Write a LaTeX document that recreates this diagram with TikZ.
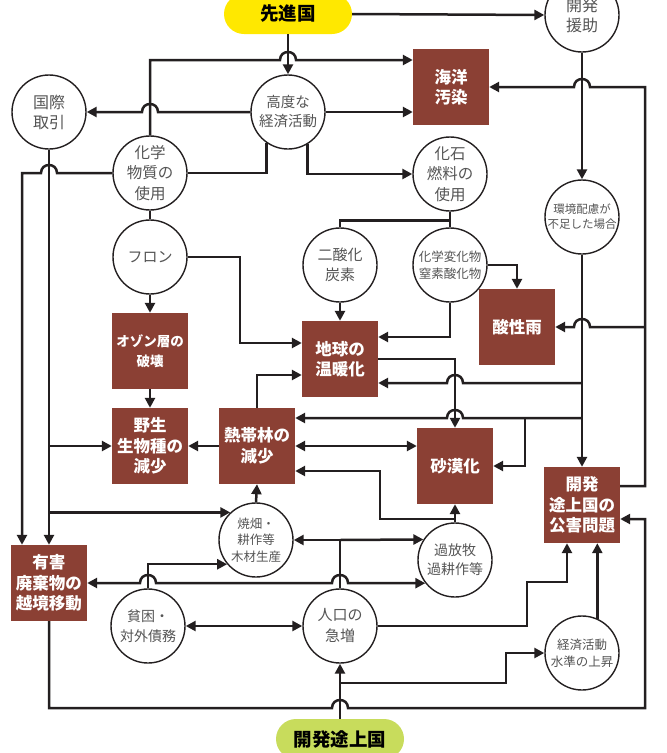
\documentclass[tikz,border=0pt]{standalone}
\usepackage{fontspec}
\setmainfont{Noto Sans CJK JP}
\usepackage{tikz}
\usetikzlibrary{arrows.meta,positioning,calc}
\definecolor{boxbrown}{RGB}{139,64,52}
\definecolor{pillyellow}{RGB}{255,232,0}
\definecolor{pillgreen}{RGB}{200,220,92}
\definecolor{inkdark}{RGB}{35,31,32}
\definecolor{inkgray}{RGB}{85,85,85}
\newcommand{\hopr}[2]{-- (#1-8,#2) .. controls +(0pt,10.7pt) and +(0pt,10.7pt) .. (#1+8,#2)}
\newcommand{\hopl}[2]{-- (#1+8,#2) .. controls +(0pt,10.7pt) and +(0pt,10.7pt) .. (#1-8,#2)}
\newcommand{\fs}[2]{\fontsize{#1}{#2}\selectfont}

\begin{document}
\begin{tikzpicture}[
  x=1pt, y=-1pt,
  bubble/.style={circle, draw=inkdark, line width=1.4pt, fill=white, minimum size=74pt,
                 inner sep=0pt, align=center, text=inkgray},
  issue/.style={rectangle, fill=boxbrown, minimum width=76pt, minimum height=76pt,
                inner sep=0pt, align=center, text=white, font=\bfseries\fs{16.5}{20.5}},
  pill/.style={rounded corners=20pt, minimum width=128pt, minimum height=40pt,
               inner sep=0pt, font=\bfseries\fs{18.5}{20}},
  arr/.style={-{Triangle[length=10pt,width=10pt]}, line width=2.5pt, draw=inkdark},
  twoway/.style={{Triangle[length=10pt,width=10pt]}-{Triangle[length=10pt,width=10pt]},
                 line width=2.5pt, draw=inkdark},
  link/.style={line width=2.5pt, draw=inkdark},
]
\useasboundingbox (0,0) rectangle (667,753);

\node[pill, fill=pillyellow] (dev) at (288,14) {先進国};
\node[pill, fill=pillgreen] (devg) at (340,739) {開発途上国};
\node[bubble, font=\fs{16}{20}] (aid) at (582,15) {開発\\援助};
\node[bubble, font=\fs{16}{20}] (trade) at (49,112) {国際\\取引};
\node[bubble, font=\fs{14.5}{19}] (econ) at (288,112) {高度な\\経済活動};
\node[bubble, font=\fs{15.5}{20.5}] (chem) at (150,173) {化学\\物質の\\使用};
\node[issue] (ocean) at (451,87) {海洋\\汚染};
\node[bubble, font=\fs{15.5}{20.5}] (fossil) at (450,174) {化石\\燃料の\\使用};
\node[bubble, font=\fs{11.5}{15}] (care) at (582,217) {環境配慮が\\不足した場合};
\node[bubble, font=\fs{15}{20}] (cfc) at (150,257) {フロン};
\node[bubble, font=\fs{15}{20}] (co2) at (340,265) {二酸化\\炭素};
\node[bubble, font=\fs{12.5}{17}] (nox) at (450,265) {化学変化物\\窒素酸化物};
\node[issue, font=\bfseries\fs{13.5}{20.5}] (ozone) at (150,351) {オゾン層の\\破壊};
\node[issue] (warm) at (340,359) {地球の\\温暖化};
\node[issue] (acid) at (517,327) {酸性雨};
\node[issue] (wild) at (150,446) {野生\\生物種の\\減少};
\node[issue] (forest) at (257,446) {熱帯林の\\減少};
\node[issue] (desert) at (455,466) {砂漠化};
\node[issue] (poll) at (582,505) {開発\\途上国の\\公害問題};
\node[issue] (waste) at (49,583) {有害\\廃棄物の\\越境移動};
\node[bubble, font=\fs{12.5}{16.5}] (burn) at (256,540) {焼畑・\\耕作等\\木材生産};
\node[bubble, font=\fs{14}{19}] (graze) at (455,560) {過放牧\\過耕作等};
\node[bubble, font=\fs{14}{20}] (pov) at (148,626) {貧困・\\対外債務};
\node[bubble, font=\fs{15}{21}] (pop) at (340,626) {人口の\\急増};
\node[bubble, font=\fs{12.5}{17}] (rise) at (582,653) {経済活動\\水準の上昇};

\coordinate (jwarm) at (582,383);
\coordinate (jforest) at (582,418);
\coordinate (jdesert) at (525,418);
\coordinate (jacid) at (645,327);
\coordinate (jgraze) at (455,519);
\coordinate (jpop) at (340,540);
\coordinate (jdevg) at (340,683);

\draw[arr] (dev.south) -- (econ.north);
\draw[arr] (dev.east) -- (aid.west);
\draw[arr] (aid.south) -- (care.north);
\draw[arr] (chem.north) -- (150,60) \hopr{288}{60} -- ([yshift=27pt]ocean.west);
\draw[arr] (econ.west) \hopl{150}{112} -- (trade.east);
\draw[arr] (econ.east) -- (ocean.west |- econ.east);
\draw[link] (econ.235) |- (chem.east);
\draw[arr] (econ.301) |- (fossil.west);
\draw[arr] (chem.west) \hopl{49}{173} -| ([xshift=-27pt]waste.north);
\draw[arr] (trade.south) -- (waste.north);
\draw[arr] (trade.south |- wild.west) -- (wild.west);
\draw[arr] (trade.south |- burn.133) -- (burn.133);
\draw[link] (chem.south) -- (cfc.north);
\draw[link] (fossil.south) -- (nox.north);
\draw[link] (fossil.south) -- ++(0,9) -| (co2.north);
\draw[arr] (cfc.south) -- (ozone.north);
\draw[arr] (cfc.east) -- (240,257) |- ([yshift=16pt]warm.west);
\draw[arr] (co2.south) -- (warm.north);
\draw[arr] (nox.south) |- ([yshift=22pt]warm.east);
\draw[arr] (nox.east) -| (acid.north);
\draw[arr] (warm.east) -| (desert.north);
\draw[arr] (care.south) -- (poll.north);
\draw[arr] (jwarm) \hopl{455}{383} -- (warm.east |- jwarm);
\draw[arr] (jforest) \hopl{455}{418} -- (forest.east |- jforest);
\draw[arr] (jdesert) |- (desert.east);
\draw[arr] ([yshift=19pt]poll.east) -| (645,87) \hopl{582}{87} -- (ocean.east);
\draw[arr] (jacid) \hopl{582}{327} -- (acid.east);
\draw[arr] (waste.south) -- (49,708) \hopr{340}{708} -- (645,708) |- ([yshift=-14pt]poll.east);
\draw[arr] (forest.west) -- (wild.east);
\draw[arr] (forest.north) |- ([yshift=-16pt]warm.west);
\draw[twoway] (forest.east) -- (desert.west |- forest.east);
\draw[arr] (ozone.south) -- (wild.north);
\draw[arr] (burn.north) -- (forest.south);
\draw[arr] (graze.north) -- (desert.south);
\draw[arr] (jgraze) -- (380,519) |- ([yshift=-25pt]forest.east);
\draw[link] (pop.north) -- (jpop);
\draw[arr] (jpop) -- (burn.east);
\draw[arr] (jpop) -- (graze.147);
\draw[twoway] (waste.east) \hopr{148}{583} \hopr{340}{583} -- (graze.218);
\draw[arr] (pov.north) |- (burn.220);
\draw[twoway] (pov.east) -- (pop.west);
\draw[arr] (devg.north) -- (pop.south);
\draw[arr] (jdevg) -- (506,683) |- (rise.west);
\draw[arr] (pop.east) -| (527,582) -| ([xshift=-15pt]poll.south);
\draw[arr] (rise.66) -- (rise.66 |- poll.south);
\end{tikzpicture}
\end{document}
